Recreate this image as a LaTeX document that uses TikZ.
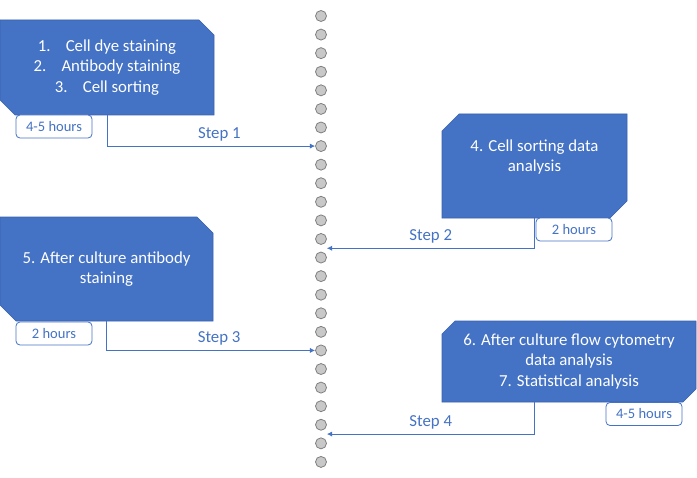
\documentclass[tikz,border=0pt]{standalone}
\usepackage{fontspec}
\setmainfont{Carlito}
\usetikzlibrary{shapes.misc,arrows.meta,calc}

\definecolor{stageblue}{HTML}{4472C4}
\definecolor{stageedge}{HTML}{3A63AD}
\definecolor{dotgray}{HTML}{C8C8C8}
\definecolor{dotedge}{HTML}{7F7F7F}

\def\px{0.75pt}
\def\dotsep{18.58}

\begin{document}
\begin{tikzpicture}[x=\px, y=-\px, font=\fontsize{12.6}{15.4}\selectfont]
    \tikzstyle{stage}=[chamfered rectangle, fill=stageblue, draw=stageedge, line width=0.4pt, text=white, align=center, inner sep=0pt]
    \tikzstyle{left stage}=[stage, chamfered rectangle corners={north east,south west}]
    \tikzstyle{right stage}=[stage, chamfered rectangle corners={north west,south east}]
    \tikzstyle{duration}=[draw=stageblue, fill=white, rounded corners=3pt, line width=0.6pt, text=stageblue, minimum width=76*\px, minimum height=23*\px, inner sep=0pt, font=\fontsize{10.9}{13}\selectfont]
    \tikzstyle{tick}=[circle, fill=dotgray, draw=dotedge, line width=0.6pt, minimum size=11*\px, inner sep=0pt]
    \tikzstyle{flow}=[draw=stageblue, line width=0.6pt, -{Latex[length=4pt,width=4pt]}]
    \tikzstyle{step label}=[text=stageblue, anchor=south, inner sep=3.5pt]

    \useasboundingbox (0,0) rectangle (697,478);

    % Draw the time line
    \foreach \i in {1,...,25}
        \node[tick] (D-\i) at (321, {16+(\i-1)*\dotsep}) {};

    % Draw the stages
    \node[left stage, minimum width=214*\px, minimum height=95*\px, chamfered rectangle sep=7.5*\px] (S-1) at (107,67.5)
        {1.\hspace{0.9em}Cell dye staining\\2.\hspace{0.9em}Antibody staining\\3.\hspace{0.9em}Cell sorting};
    \node[right stage, minimum width=185*\px, minimum height=104*\px, chamfered rectangle sep=8.5*\px] (S-2) at (534.5,166)
        {4. Cell sorting data\\analysis\\\mbox{}};
    \node[left stage, minimum width=213*\px, minimum height=104*\px, chamfered rectangle sep=8*\px] (S-3) at (106.5,269)
        {5. After culture antibody\\staining};
    \node[right stage, minimum width=254*\px, minimum height=81*\px, chamfered rectangle sep=6.5*\px] (S-4) at (569,361.5)
        {6. After culture flow cytometry\\data analysis\\7. Statistical analysis};

    % Durations
    \node[duration] (T-1) at (54,126.5) {4-5 hours};
    \node[duration] (T-2) at (574,229.5) {2 hours};
    \node[duration] (T-3) at (54,333.5) {2 hours};
    \node[duration] (T-4) at (644,414) {4-5 hours};

    % Connect the stages to the time line
    \draw[flow] (S-1.south) |- (D-8.west) node[step label, pos=0.77] {Step 1};
    \draw[flow] (S-2.south) |- ($(D-13.east)!0.5!(D-14.east)$) node[step label, pos=0.75] {Step 2};
    \draw[flow] (S-3.south) |- (D-19.west) node[step label, pos=0.77] {Step 3};
    \draw[flow] (S-4.south -| S-2.south) |- ($(D-23.east)!0.5!(D-24.east)$) node[step label, pos=0.75] {Step 4};
\end{tikzpicture}
\end{document}
